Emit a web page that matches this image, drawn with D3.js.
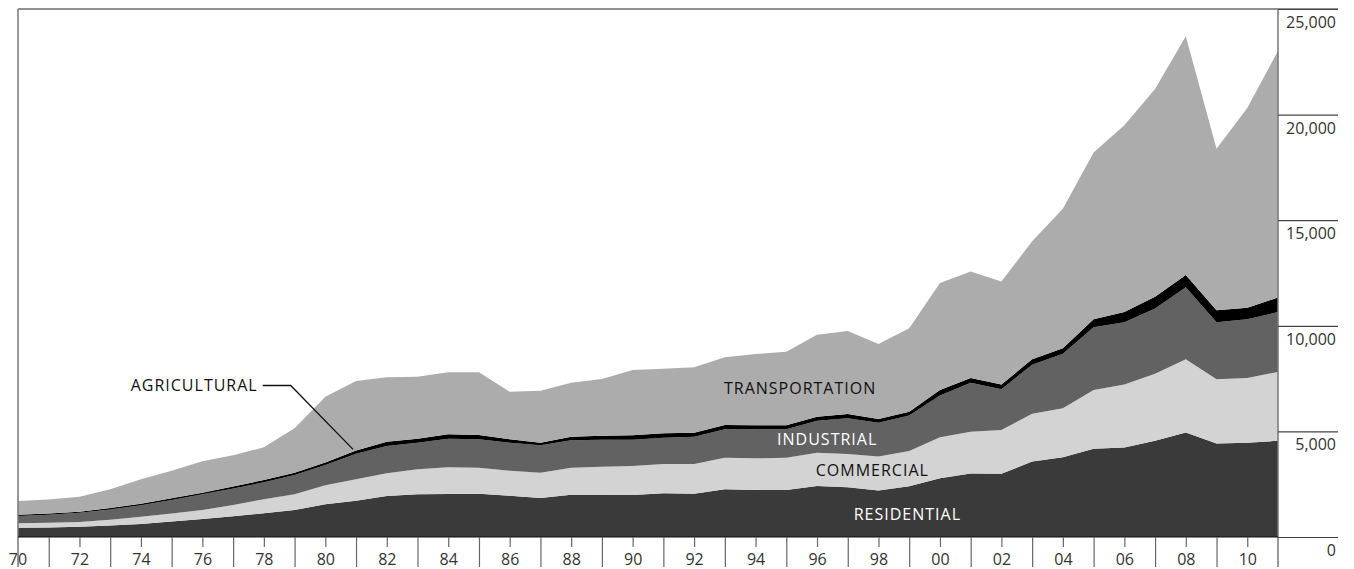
<!DOCTYPE html>
<html>
<head>
<meta charset="utf-8">
<script src="https://cdn.jsdelivr.net/npm/d3@7"></script>
<style>
  html, body { margin: 0; padding: 0; background: #fff; }
  svg { display: block; }
  text { font-family: "Open Sans", "Noto Sans", sans-serif; }
</style>
</head>
<body>
<svg id="chart" width="1354" height="569"></svg>
<script>
const years = d3.range(1970, 2012);
const residential = [440,455,488,550,615,730,852,980,1120,1278,1555,1720,1941,2020,2036,2051,1957,1846,2004,2004,1988,2067,2051,2257,2225,2225,2414,2351,2199,2405,2783,3007,2990,3573,3780,4175,4243,4553,4948,4433,4467,4553];
const commercial  = [208,215,222,270,347,380,426,540,663,742,900,1010,1073,1183,1262,1231,1183,1200,1278,1326,1373,1389,1405,1499,1499,1531,1578,1578,1615,1667,1941,1975,2078,2268,2319,2783,2973,3178,3470,3040,3058,3264];
const industrial  = [346,380,442,480,538,640,742,780,805,915,960,1210,1295,1263,1357,1342,1326,1294,1294,1278,1247,1246,1294,1341,1373,1341,1515,1689,1598,1683,1976,2318,1932,2319,2577,2972,2954,3092,3402,2697,2783,2835];
const agricultural= [63,60,48,70,78,80,80,90,112,111,110,160,200,189,205,205,158,126,174,189,205,206,189,205,189,189,190,205,172,172,258,225,216,258,258,378,482,550,584,567,550,687];
const transportation = [648,670,710,887,1152,1310,1483,1480,1545,2099,3115,3287,3050,2935,2935,2966,2256,2461,2556,2683,3093,3061,3093,3203,3377,3488,3881,3929,3556,3953,5068,5051,4879,5584,6614,7903,8848,9844,11304,7646,9449,11682];
const seriesKeys = ["residential","commercial","industrial","agricultural","transportation"];
const seriesColors = ["#3a3a3a","#d3d3d3","#626262","#000000","#acacac"];
const yTicks = [0,5000,10000,15000,20000,25000];
const labelNames = ["TRANSPORTATION","INDUSTRIAL","COMMERCIAL","RESIDENTIAL"];
const labelYears = [1995.45,1996.33,1997.8,1998.94];
const labelValues = [7055,4616,3149,1089];
const labelFills = ["#111","#fff","#111","#fff"];

const table = years.map((yr,i) => ({
  year: yr, residential: residential[i], commercial: commercial[i],
  industrial: industrial[i], agricultural: agricultural[i], transportation: transportation[i]
}));

const svg = d3.select("#chart");
const mLeft = 18, mRight = 1278, mTop = 9, mBottom = 537;
const x = d3.scaleLinear().domain([1970, 2011]).range([mLeft, mRight]);
const y = d3.scaleLinear().domain([0, 25000]).range([mBottom, mTop]);

const stacked = d3.stack().keys(seriesKeys)(table);
const area = d3.area().x(d => x(d.data.year)).y0(d => y(d[0])).y1(d => y(d[1]));

svg.append("g").selectAll("path").data(stacked).join("path")
  .attr("d", area)
  .attr("fill", (d,i) => seriesColors[i]);

// frame
svg.append("line").attr("x1", mLeft).attr("x2", 1338).attr("y1", mTop).attr("y2", mTop)
  .attr("stroke", "#222").attr("stroke-width", 1.2);
svg.append("line").attr("x1", mLeft).attr("x2", mLeft).attr("y1", mTop).attr("y2", 567)
  .attr("stroke", "#777").attr("stroke-width", 1.5);
svg.append("line").attr("x1", mRight).attr("x2", mRight).attr("y1", mTop).attr("y2", 567)
  .attr("stroke", "#777").attr("stroke-width", 1.5);
svg.append("line").attr("x1", mLeft).attr("x2", mRight).attr("y1", mBottom).attr("y2", mBottom)
  .attr("stroke", "#111").attr("stroke-width", 1.2);

// bottom axis
const xAxis = d3.axisBottom(x).tickValues(years.slice(1, -1)).tickSizeOuter(0)
  .tickFormat(d => d % 2 === 0 ? String(d % 100).padStart(2, "0") : "");
const gx = svg.append("g").attr("transform", `translate(0,${mBottom})`).call(xAxis);
gx.select(".domain").remove();
gx.selectAll(".tick line").attr("stroke", "#666").attr("stroke-width", 1.2)
  .attr("y2", d => d % 2 === 0 ? 10 : 30);
gx.selectAll(".tick text").attr("y", 22).attr("dy", "0.35em")
  .attr("font-size", 16).attr("fill", "#333");
svg.append("text").attr("x", x(1970)).attr("y", mBottom + 22).attr("dy", "0.35em")
  .attr("text-anchor", "middle").attr("font-size", 16).attr("fill", "#333").text("70");

// right axis
const yAxis = d3.axisRight(y).tickValues(yTicks).tickSize(60).tickSizeOuter(0)
  .tickFormat(d3.format(","));
const gy = svg.append("g").attr("transform", `translate(${mRight},0)`).call(yAxis);
gy.select(".domain").remove();
gy.selectAll(".tick line").attr("stroke", "#444").attr("stroke-width", 1.2);
gy.selectAll(".tick text").attr("x", 58).attr("y", 13).attr("dy", "0.35em")
  .attr("text-anchor", "end").attr("font-size", 16).attr("fill", "#333");

// series labels
svg.append("g").selectAll("text").data(labelNames).join("text")
  .attr("x", (d,i) => x(labelYears[i])).attr("y", (d,i) => y(labelValues[i]))
  .attr("dy", "0.35em").attr("text-anchor", "middle")
  .attr("font-size", 16).attr("letter-spacing", "1px")
  .attr("fill", (d,i) => labelFills[i]).text(d => d);

// agricultural annotation with leader to 1981 band
const iA = years.indexOf(1981);
const agTop = stacked[3][iA][1];
const labX = x(1977.8), labY = y(7173);
svg.append("text").attr("x", labX).attr("y", labY).attr("dy", "0.35em")
  .attr("text-anchor", "end").attr("font-size", 16).attr("letter-spacing", "1px")
  .attr("fill", "#111").text("AGRICULTURAL");
svg.append("polyline")
  .attr("points", [[labX + 5, labY], [labX + 33, labY], [x(1981) - 3, y(agTop) - 1]].map(p => p.join(",")).join(" "))
  .attr("fill", "none").attr("stroke", "#111").attr("stroke-width", 1.3);
</script>
</body>
</html>
